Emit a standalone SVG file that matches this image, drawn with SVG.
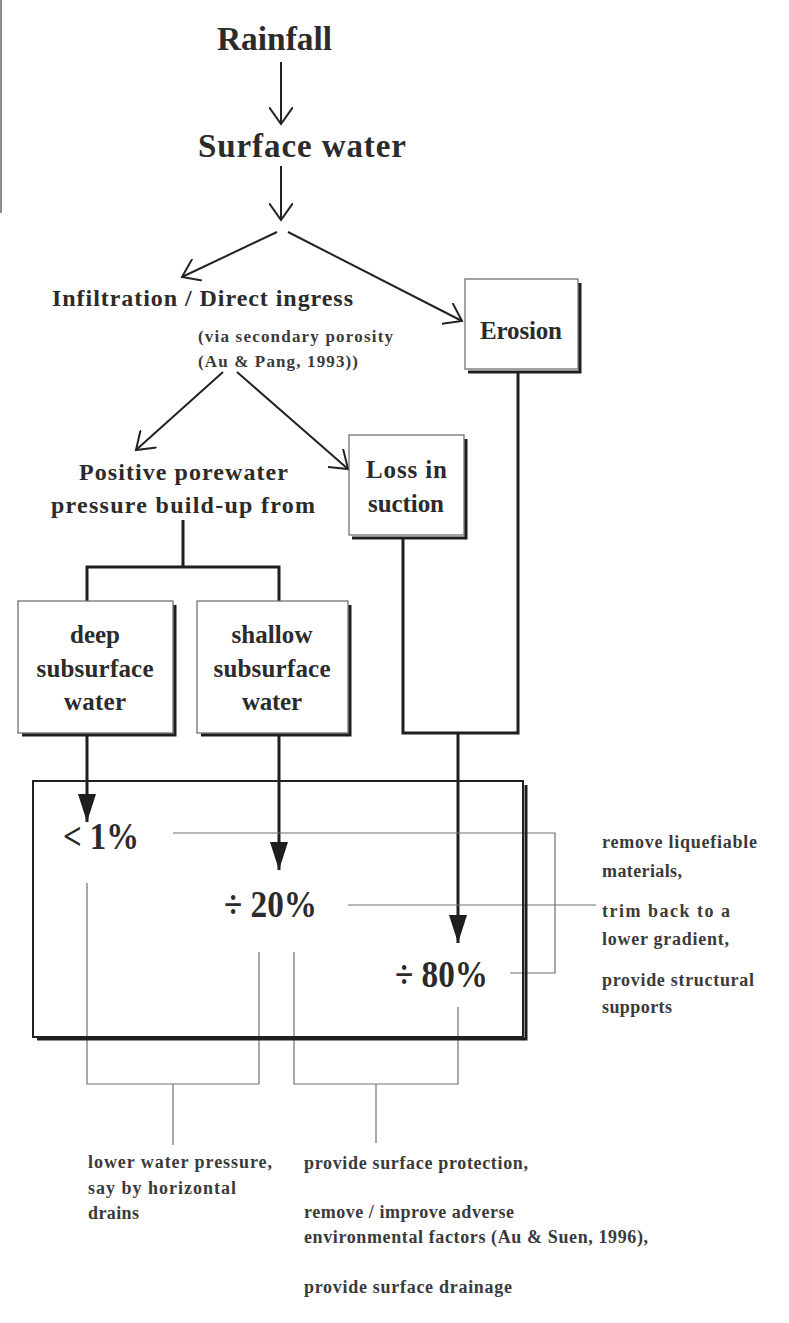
<svg xmlns="http://www.w3.org/2000/svg" width="789" height="1323" viewBox="0 0 789 1323">
<style>
text{font-family:"Liberation Serif","Times New Roman",serif;font-weight:bold;fill:#2b2b2b}
.t32{font-size:33px}.t24{font-size:25px}.t23{font-size:24px}.t22{font-size:24px}.t15{font-size:17px;fill:#3a3a3a}
.t36{font-size:37px}.t17{font-size:18px;fill:#3a3a3a}
.box{fill:#fff;stroke:#666;stroke-width:1.2}
.shadow{fill:none;stroke:#1e1e1e;stroke-width:3}
.arr{fill:none;stroke:#222;stroke-width:2}
.thick{fill:none;stroke:#1e1e1e;stroke-width:3}
.thin{fill:none;stroke:#707070;stroke-width:1.2}
</style>
<defs>
<marker id="open" viewBox="0 0 19 24" refX="17" refY="12" markerWidth="19" markerHeight="24" markerUnits="userSpaceOnUse" orient="auto"><path d="M0,0 L17,12 L0,24" fill="none" stroke="#222" stroke-width="2"/></marker>
<marker id="solid" viewBox="0 0 28 18" refX="28" refY="9" markerWidth="28" markerHeight="18" markerUnits="userSpaceOnUse" orient="auto"><path d="M0,0 L28,9 L0,18 Z" fill="#1e1e1e"/></marker>
</defs>
<rect width="789" height="1323" fill="#fff"/>
<line x1="1" y1="0" x2="1" y2="213" stroke="#666" stroke-width="1.5"/>

<g id="connectors">
<line class="arr" x1="281" y1="62" x2="281" y2="124" marker-end="url(#open)"/>
<line class="arr" x1="281" y1="166" x2="281" y2="220" marker-end="url(#open)"/>
<line class="arr" x1="277" y1="232" x2="182" y2="277" marker-end="url(#open)"/>
<line class="arr" x1="288" y1="232" x2="462" y2="321" marker-end="url(#open)"/>
<line class="arr" x1="223" y1="372" x2="136" y2="450" marker-end="url(#open)"/>
<line class="arr" x1="237" y1="372" x2="348" y2="469" marker-end="url(#open)"/>
<path class="thick" d="M183,520 V567 M87,601 V567 H279 V601"/>
<path class="thick" d="M403,538 V733 H518 V373"/>
<line class="thick" x1="87" y1="736" x2="87" y2="822" marker-end="url(#solid)"/>
<line class="thick" x1="279" y1="736" x2="279" y2="870" marker-end="url(#solid)"/>
<line class="thick" x1="458" y1="733" x2="458" y2="943" marker-end="url(#solid)"/>
<path class="thin" d="M173,833 H555 V973 H510"/>
<line class="thin" x1="348" y1="905" x2="596" y2="905"/>
<path class="thin" d="M87,883 V1084 H259 V952"/>
<line class="thin" x1="173" y1="1084" x2="173" y2="1145"/>
<path class="thin" d="M294,952 V1084 H458 V1007"/>
<line class="thin" x1="376" y1="1084" x2="376" y2="1143"/>
</g>

<g id="rainfall"><text class="t32" x="217" y="50" textLength="115" lengthAdjust="spacingAndGlyphs">Rainfall</text></g>
<g id="surface-water"><text class="t32" x="198" y="157" textLength="208" lengthAdjust="spacing">Surface water</text></g>
<g id="infiltration">
<text class="t22" x="52" y="306" textLength="301" lengthAdjust="spacing">Infiltration / Direct ingress</text>
<text class="t15" x="198" y="342" textLength="195" lengthAdjust="spacing">(via secondary porosity</text>
<text class="t15" x="198" y="367" textLength="160" lengthAdjust="spacing">(Au &amp; Pang, 1993))</text>
</g>
<g id="erosion">
<rect class="box" x="465" y="279" width="113" height="90"/>
<polyline class="shadow" points="580,283 580,372 468,372"/>
<text class="t24" x="480" y="339" textLength="82" lengthAdjust="spacing">Erosion</text>
</g>
<g id="positive-porewater">
<text class="t23" x="79" y="480" textLength="209" lengthAdjust="spacing">Positive porewater</text>
<text class="t23" x="51" y="513" textLength="264" lengthAdjust="spacing">pressure build-up from</text>
</g>
<g id="loss-in-suction">
<rect class="box" x="349" y="435" width="115" height="100"/>
<polyline class="shadow" points="466,439 466,538 352,538"/>
<text class="t24" x="366" y="478" textLength="81" lengthAdjust="spacing">Loss in</text>
<text class="t24" x="368" y="512" textLength="76" lengthAdjust="spacing">suction</text>
</g>
<g id="deep">
<rect class="box" x="18" y="601" width="155" height="132"/>
<polyline class="shadow" points="175,605 175,735 22,735"/>
<text class="t24" x="95" y="643" text-anchor="middle" textLength="50" lengthAdjust="spacing">deep</text>
<text class="t24" x="95" y="677" text-anchor="middle" textLength="117" lengthAdjust="spacing">subsurface</text>
<text class="t24" x="95" y="710" text-anchor="middle" textLength="62" lengthAdjust="spacing">water</text>
</g>
<g id="shallow">
<rect class="box" x="197" y="601" width="151" height="132"/>
<polyline class="shadow" points="350,605 350,735 201,735"/>
<text class="t24" x="272" y="643" text-anchor="middle" textLength="81" lengthAdjust="spacing">shallow</text>
<text class="t24" x="272" y="677" text-anchor="middle" textLength="117" lengthAdjust="spacing">subsurface</text>
<text class="t24" x="272" y="710" text-anchor="middle" textLength="60" lengthAdjust="spacing">water</text>
</g>
<g id="outcome-box">
<rect x="33" y="781" width="490" height="256" fill="none" stroke="#222" stroke-width="2"/>
<polyline class="shadow" points="526,785 526,1039 37,1039"/>
</g>
<g id="p1"><text class="t36" x="63" y="849" textLength="76" lengthAdjust="spacingAndGlyphs">&lt; 1%</text></g>
<g id="p20"><text class="t36" x="224" y="917" textLength="93" lengthAdjust="spacingAndGlyphs">÷ 20%</text></g>
<g id="p80"><text class="t36" x="395" y="987" textLength="93" lengthAdjust="spacingAndGlyphs">÷ 80%</text></g>
<g id="remedy-right">
<text class="t17" x="602" y="848" textLength="155" lengthAdjust="spacing">remove liquefiable</text>
<text class="t17" x="602" y="877" textLength="80" lengthAdjust="spacing">materials,</text>
<text class="t17" x="602" y="917" textLength="128" lengthAdjust="spacing">trim back to a</text>
<text class="t17" x="602" y="945" textLength="127" lengthAdjust="spacing">lower gradient,</text>
<text class="t17" x="602" y="986" textLength="152" lengthAdjust="spacing">provide structural</text>
<text class="t17" x="602" y="1013" textLength="70" lengthAdjust="spacing">supports</text>
</g>
<g id="remedy-left">
<text class="t17" x="88" y="1168" textLength="184" lengthAdjust="spacing">lower water pressure,</text>
<text class="t17" x="88" y="1194" textLength="148" lengthAdjust="spacing">say by horizontal</text>
<text class="t17" x="88" y="1219" textLength="51" lengthAdjust="spacing">drains</text>
</g>
<g id="remedy-bottom">
<text class="t17" x="304" y="1169" textLength="224" lengthAdjust="spacing">provide surface protection,</text>
<text class="t17" x="304" y="1218" textLength="210" lengthAdjust="spacing">remove / improve adverse</text>
<text class="t17" x="304" y="1243" textLength="344" lengthAdjust="spacing">environmental factors (Au &amp; Suen, 1996),</text>
<text class="t17" x="304" y="1293" textLength="208" lengthAdjust="spacing">provide surface drainage</text>
</g>
</svg>
